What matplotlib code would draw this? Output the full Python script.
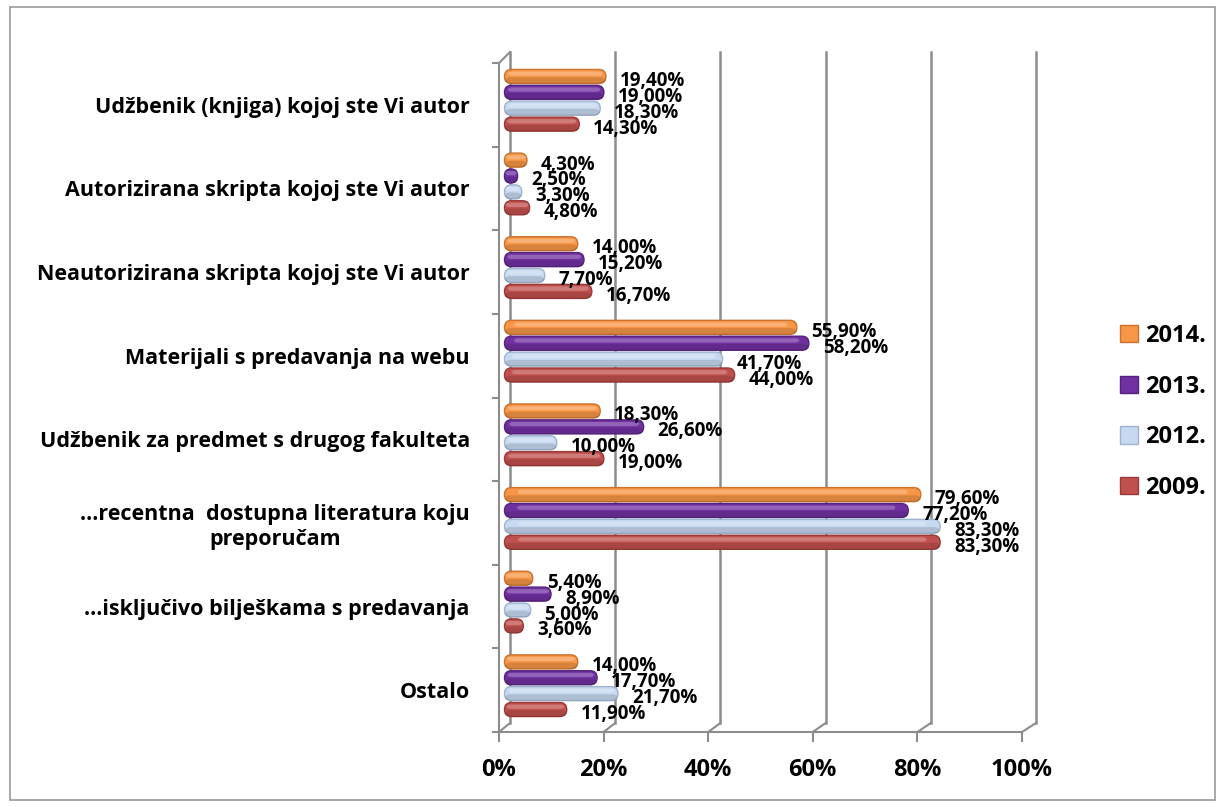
import matplotlib
matplotlib.use("Agg")
import matplotlib.pyplot as plt
import matplotlib.transforms as mtransforms
import numpy as np
from matplotlib.patches import ConnectionPatch, FancyBboxPatch, Patch, Rectangle

# --- data ---
categories = [
    "Udžbenik (knjiga) kojoj ste Vi autor",
    "Autorizirana skripta kojoj ste Vi autor",
    "Neautorizirana skripta kojoj ste Vi autor",
    "Materijali s predavanja na webu",
    "Udžbenik za predmet s drugog fakulteta",
    "…recentna  dostupna literatura koju\npreporučam",
    "…isključivo bilješkama s predavanja",
    "Ostalo",
]
years = ["2014.", "2013.", "2012.", "2009."]
v2014 = [19.4, 4.3, 14.0, 55.9, 18.3, 79.6, 5.4, 14.0]
v2013 = [19.0, 2.5, 15.2, 58.2, 26.6, 77.2, 8.9, 17.7]
v2012 = [18.3, 3.3, 7.7, 41.7, 10.0, 83.3, 5.0, 21.7]
v2009 = [14.3, 4.8, 16.7, 44.0, 19.0, 83.3, 3.6, 11.9]
x_ticks = [0, 20, 40, 60, 80, 100]

series = [v2014, v2013, v2012, v2009]
colors = ["#F79646", "#7030A0", "#C6D9F1", "#C0504D"]
edges = ["#C9732F", "#55237F", "#9FB4CF", "#9A3A37"]
GRID = "#8c8c8c"

plt.rcParams["font.family"] = ["Open Sans", "DejaVu Sans"]
plt.rcParams["font.weight"] = "bold"

W, H = 1225, 807
fig = plt.figure(figsize=(W / 100, H / 100), dpi=100)


def frac(x0, y0, x1, y1):
    # pixel box (top-left origin) -> figure fraction rect
    return [x0 / W, 1 - y1 / H, (x1 - x0) / W, (y1 - y0) / H]


n_cat = len(categories)
y = np.arange(n_cat)

# back wall: gridlines only
axb = fig.add_axes(frac(510, 52, 1036, 723))
axb.set_xlim(0, 100)
axb.set_ylim(n_cat - 0.5, -0.5)
for t in x_ticks:
    axb.axvline(t, color=GRID, linewidth=1.8, clip_on=False, zorder=0)
axb.set_xticks([])
axb.set_yticks([])
axb.patch.set_visible(False)
for s in axb.spines.values():
    s.set_visible(False)

# front: axes, ticks, labels, bars
ax = fig.add_axes(frac(499, 63, 1022, 732))
ax.patch.set_visible(False)
ax.set_xlim(0, 100)
ax.set_ylim(n_cat - 0.5, -0.5)

# bars sit a little behind the front plane
shift = mtransforms.ScaledTranslation(5.5 / 100, 4.5 / 100, fig.dpi_scale_trans)
bar_tr = ax.transData + shift

bar_h = 0.168
offsets = (np.arange(4) - 1.5) * 0.19

px_x = 523 / 100.0
px_y = (732 - 63) / n_cat
aspect = px_x / px_y
radius_px = 7.0

for vals, off, col, ec in zip(series, offsets, colors, edges):
    bars = ax.barh(y + off, vals, height=bar_h, color=col)
    for rect, v in zip(bars, vals):
        x0, y0 = rect.get_xy()
        w, h = rect.get_width(), rect.get_height()
        rs = min(radius_px / px_x, w / 2, (h / aspect) / 2)
        p = FancyBboxPatch((x0, y0), w, h,
                           boxstyle=f"round,pad=0,rounding_size={rs}",
                           mutation_aspect=aspect, transform=bar_tr,
                           facecolor=col, edgecolor=ec, linewidth=1.0, zorder=3)
        ax.add_patch(p)
        # darker lower part and soft highlight near the top
        sh = FancyBboxPatch((x0, y0 + h * 0.55), w, h * 0.45,
                            boxstyle=f"round,pad=0,rounding_size={rs * 0.8}",
                            mutation_aspect=aspect, transform=bar_tr,
                            facecolor="black", edgecolor="none", alpha=0.12, zorder=4)
        ax.add_patch(sh)
        hl = FancyBboxPatch((x0 + w * 0.03, y0 + h * 0.15), w * 0.94, h * 0.3,
                            boxstyle=f"round,pad=0,rounding_size={rs * 0.6}",
                            mutation_aspect=aspect, transform=bar_tr,
                            facecolor="white", edgecolor="none", alpha=0.25, zorder=4)
        ax.add_patch(hl)
        rect.remove()
        ax.annotate(f"{v:.2f}%".replace(".", ","), xy=(v, y0 + h / 2),
                    xytext=(14, 0), textcoords="offset points",
                    ha="left", va="center", fontsize=13.5, fontweight="bold",
                    color="black", zorder=5)

ax.set_xticks(x_ticks)
ax.set_xticklabels([f"{t}%" for t in x_ticks], fontsize=17, fontweight="bold")
ax.set_yticks(y)
ax.set_yticklabels(categories, fontsize=15.5, fontweight="bold")
for lab in ax.get_yticklabels():
    lab.set_multialignment("center")
ax.set_yticks(np.arange(n_cat + 1) - 0.5, minor=True)
ax.tick_params(axis="y", which="major", length=0, pad=21)
ax.tick_params(axis="y", which="minor", length=5, color=GRID, width=1.5)
ax.tick_params(axis="x", length=7, color=GRID, width=1.5, pad=12)
for s in ["top", "right"]:
    ax.spines[s].set_visible(False)
for s in ["left", "bottom"]:
    ax.spines[s].set_color(GRID)
    ax.spines[s].set_linewidth(1.5)

# floor and wall edges joining front and back planes
for t in x_ticks:
    fig.add_artist(ConnectionPatch(xyA=(t, n_cat - 0.5), coordsA=ax.transData,
                                   xyB=(t, n_cat - 0.5), coordsB=axb.transData,
                                   color=GRID, linewidth=1.5))
fig.add_artist(ConnectionPatch(xyA=(0, -0.5), coordsA=ax.transData,
                               xyB=(0, -0.5), coordsB=axb.transData,
                               color=GRID, linewidth=1.5))

handles = [Patch(facecolor=c, edgecolor=e, label=l) for c, e, l in zip(colors, edges, years)]
fig.legend(handles=handles, loc="center left", bbox_to_anchor=(1099 / W, 1 - 412 / H),
           frameon=False, prop={"size": 17, "weight": "bold"},
           handlelength=0.75, handleheight=0.75, handletextpad=0.3, labelspacing=1.13)

fig.add_artist(Rectangle((0.008, 0.009), 0.984, 0.982, transform=fig.transFigure,
                         fill=False, edgecolor="#9a9a9a", linewidth=1.2))

fig.savefig("out.png", dpi=100)
